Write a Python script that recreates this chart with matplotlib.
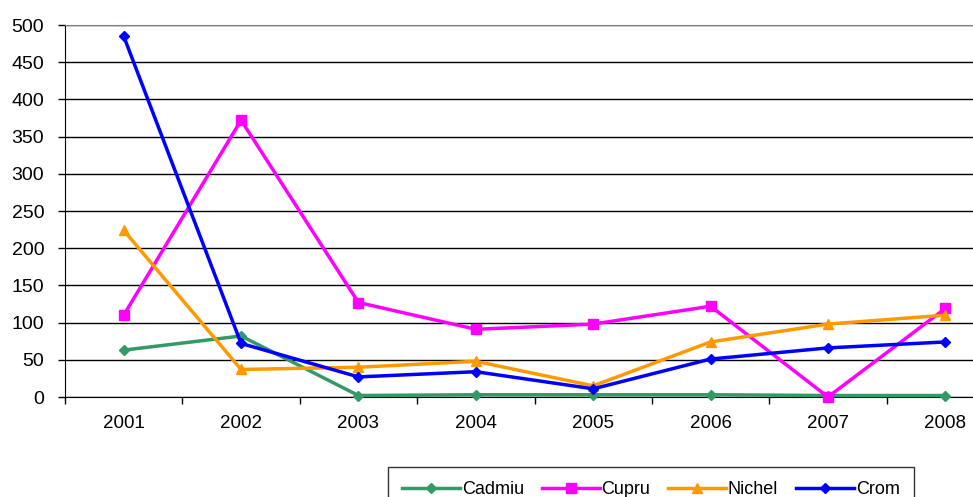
import matplotlib
matplotlib.use('Agg')
import matplotlib.pyplot as plt
import numpy as np

plt.rcParams['font.family'] = ['Liberation Sans', 'DejaVu Sans']

years = ['2001', '2002', '2003', '2004', '2005', '2006', '2007', '2008']
cadmiu = [63, 82, 2, 3, 3, 3, 2, 2]
cupru = [110, 372, 127, 91, 98, 122, 0, 119]
nichel = [224, 37, 40, 48, 15, 74, 98, 110]
crom = [485, 72, 27, 34, 11, 51, 66, 74]

series = [
    ('Cadmiu', cadmiu, '#339966', 'D', 5),
    ('Cupru', cupru, '#FF00FF', 's', 7),
    ('Nichel', nichel, '#FF9900', '^', 7),
    ('Crom', crom, '#0000FF', 'D', 5),
]

fig = plt.figure(figsize=(9.73, 4.97), dpi=100)
ax = fig.add_axes([65 / 973, 100 / 497, 939 / 973, 372 / 497])

x = np.arange(len(years))
for name, vals, color, marker, ms in series:
    ax.plot(x, vals, color=color, lw=2.5, marker=marker, markersize=ms,
            label=name, clip_on=False, zorder=3)

ax.set_xlim(-0.5, len(years) - 0.5)
ax.set_ylim(0, 500)
ax.set_yticks(np.arange(0, 501, 50))
ax.set_xticks(x)
ax.set_xticklabels(years)
ax.set_xticks(np.arange(-0.5, len(years), 1), minor=True)
ax.tick_params(axis='x', which='major', length=0, pad=13, labelsize=13.5)
ax.tick_params(axis='x', which='minor', length=5, width=1, direction='out')
ax.tick_params(axis='y', length=5, width=1, direction='out', labelsize=14, pad=10)

ax.yaxis.grid(True, color='black', lw=1)
ax.set_axisbelow(True)
ax.spines['right'].set_visible(False)
ax.spines['top'].set_color('#808080')
ax.spines['left'].set_color('black')
ax.spines['bottom'].set_color('black')

leg = fig.legend(loc='upper center', bbox_to_anchor=(651 / 973, 1 - 467 / 497),
                 ncol=4, frameon=True, fancybox=False, edgecolor='black',
                 fontsize=13, handlelength=3.2, handletextpad=0.1,
                 columnspacing=1.0, borderpad=0.8, borderaxespad=0)
leg.get_frame().set_linewidth(1)

fig.savefig('out.png', dpi=100)
